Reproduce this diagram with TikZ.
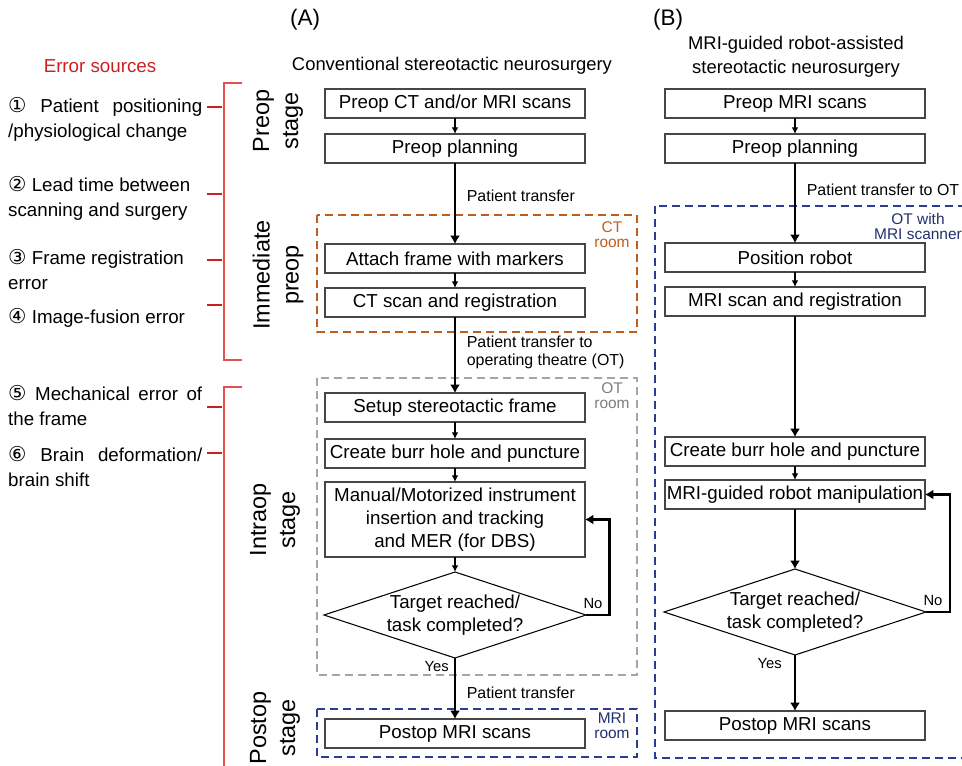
\documentclass[tikz,border=0pt]{standalone}
\usepackage{fontspec}
\setmainfont{Liberation Sans}
\newfontfamily\circfont{DejaVu Sans}
\usepackage{tikz}
\usetikzlibrary{arrows.meta,positioning,shapes.geometric}
\definecolor{errred}{RGB}{204,32,32}
\definecolor{bracketred}{RGB}{226,80,80}
\definecolor{ctbrown}{RGB}{192,92,28}
\definecolor{otgray}{RGB}{165,165,165}
\definecolor{otlabel}{RGB}{125,125,125}
\definecolor{mriblue}{RGB}{44,60,148}
\definecolor{mrilabel}{RGB}{34,48,110}
\definecolor{boxgray}{RGB}{70,70,70}
\tikzset{
    stepbox/.style={
        rectangle,
        draw=boxgray,
        line width=0.9pt,
        minimum width=7.8cm,
        minimum height=0.87cm,
        inner sep=0pt,
        outer sep=0pt,
        align=center,
        font=\fontsize{16}{19.6}\selectfont
    },
    tallbox/.style={stepbox, minimum height=2.25cm},
    decision/.style={stepbox, diamond, draw=black, aspect=3.05, minimum width=7.86cm, minimum height=2.58cm},
    line/.style={-{Latex[length=2mm,width=2mm]}, line width=1pt, draw=black},
    longline/.style={-{Latex[length=2.5mm,width=3mm]}, line width=2.2pt, draw=black},
    transfer/.style={font=\fontsize{13.6}{15.4}\selectfont, align=left, inner sep=2pt},
    answer/.style={font=\fontsize{12.6}{14}\selectfont, inner sep=0pt},
    roomlabel/.style={font=\fontsize{13.2}{12.8}\selectfont, align=center, inner sep=0pt},
    roombox/.style={dash pattern=on 2.4mm off 1.5mm, line width=1.6pt},
    stagelabel/.style={rotate=90, align=center, font=\fontsize{20}{24.7}\selectfont},
    errtext/.style={anchor=north west, text width=5.82cm, align=justify, inner sep=0pt, font=\fontsize{16}{21.3}\selectfont},
    errtick/.style={draw=errred, line width=2.2pt},
    bracket/.style={draw=bracketred, line width=0.9pt},
}
\begin{document}
\begin{tikzpicture}
    \useasboundingbox (0,0) rectangle (28.86,-22.98);
    \clip (0,0) rectangle (28.86,-22.98);

    % headings
    \node[font=\fontsize{19.2}{23}\selectfont] (labA) at (9.15,-0.6) {(A)};
    \node[font=\fontsize{19.2}{23}\selectfont] (labB) at (20.04,-0.6) {(B)};
    \node[font=\fontsize{15.7}{20.5}\selectfont] (titleA) at (13.56,-1.98) {Conventional stereotactic neurosurgery};
    \node[font=\fontsize{15.7}{20.5}\selectfont, align=center] (titleB) at (23.88,-1.71) {MRI-guided robot-assisted\\stereotactic neurosurgery};

    % error sources
    \node[text=errred, font=\fontsize{16}{19}\selectfont] (errhead) at (3.0,-1.98) {Error sources};
    \node[errtext] (err1) at (0.24,-2.91) {{\circfont\fontsize{17.5}{21.3}\selectfont ①} Patient positioning\linebreak /physiological change};
    \node[errtext] (err2) at (0.24,-5.28) {{\circfont\fontsize{17.5}{21.3}\selectfont ②} Lead time between\\scanning and surgery};
    \node[errtext] (err3) at (0.24,-7.47) {{\circfont\fontsize{17.5}{21.3}\selectfont ③} Frame registration\\error};
    \node[errtext] (err4) at (0.24,-9.24) {{\circfont\fontsize{17.5}{21.3}\selectfont ④} Image-fusion error};
    \node[errtext] (err5) at (0.24,-11.55) {{\circfont\fontsize{17.5}{21.3}\selectfont ⑤} Mechanical error of\linebreak the frame};
    \node[errtext] (err6) at (0.24,-13.38) {{\circfont\fontsize{17.5}{21.3}\selectfont ⑥} Brain deformation/\linebreak brain shift};
    \draw[bracket] (7.26,-2.49) -- (6.72,-2.49) -- (6.72,-10.8) -- (7.26,-10.8);
    \draw[bracket] (7.26,-11.61) -- (6.72,-11.61) -- (6.72,-23.2);
    \foreach \ty in {-3.21,-5.82,-7.8,-9.15,-12.21,-13.59}
        \draw[errtick] (6.21,\ty) -- (6.66,\ty);

    % stages
    \node[stagelabel] (stagePre) at (8.34,-3.63) {Preop\\stage};
    \node[stagelabel] (stageImm) at (8.34,-8.25) {Immediate\\preop};
    \node[stagelabel] (stageIntra) at (8.25,-15.6) {Intraop\\stage};
    \node[stagelabel] (stagePost) at (8.25,-21.84) {Postop\\stage};

    % rooms
    \draw[roombox, draw=ctbrown] (9.51,-6.45) rectangle (19.11,-9.96);
    \node[roomlabel, text=ctbrown] (ctroom) at (18.36,-7.05) {CT\\room};
    \draw[roombox, draw=otgray] (9.51,-11.34) rectangle (19.11,-20.25);
    \node[roomlabel, text=otlabel] (otroom) at (18.36,-11.87) {OT\\room};
    \draw[roombox, draw=mriblue] (9.51,-21.27) rectangle (19.11,-22.71);
    \node[roomlabel, text=mrilabel] (mriroom) at (18.36,-21.77) {MRI\\room};
    \draw[roombox, draw=mriblue] (19.65,-6.18) rectangle (29.4,-22.74);
    \node[roomlabel, text=mrilabel] (otmri) at (27.54,-6.78) {OT with\\MRI scanner};

    % (A) conventional
    \node[stepbox] (preopA) at (13.65,-3.105) {Preop CT and/or MRI scans};
    \node[stepbox, below=0.48cm of preopA] (planA) {Preop planning};
    \node[stepbox, below=2.43cm of planA] (frameA) {Attach frame with markers};
    \node[stepbox, below=0.45cm of frameA] (ctregA) {CT scan and registration};
    \node[stepbox, below=2.28cm of ctregA] (setupA) {Setup stereotactic frame};
    \node[stepbox, below=0.51cm of setupA] (burrA) {Create burr hole and puncture};
    \node[tallbox, below=0.42cm of burrA] (insertA) {Manual/Motorized instrument\\insertion and tracking\\and MER (for DBS)};
    \node[decision, below=0.45cm of insertA] (checkA) {Target reached/\\task completed?};
    \node[stepbox, below=1.83cm of checkA] (postopA) {Postop MRI scans};

    \draw[line] (preopA) -- (planA);
    \draw[longline] (planA) -- node[transfer, right=7pt, pos=0.41] {Patient transfer} (frameA);
    \draw[line] (frameA) -- (ctregA);
    \draw[longline] (ctregA) -- node[transfer, right=7pt, pos=0.46] {Patient transfer to\\operating theatre (OT)} (setupA);
    \draw[line] (setupA) -- (burrA);
    \draw[line] (burrA) -- (insertA);
    \draw[line] (insertA) -- (checkA);
    \draw[longline] (checkA) -- node[answer, pos=0, anchor=north east, xshift=-0.15cm, yshift=-0.06cm] {Yes} node[transfer, right=7pt, pos=0.57] {Patient transfer} (postopA);
    \draw[longline] (checkA.east) node[answer, anchor=south, xshift=0.21cm, yshift=0.15cm] {No} -- ++(0.7,0) |- (insertA.east);

    % (B) MRI-guided robot-assisted
    \node[stepbox] (preopB) at (23.85,-3.105) {Preop MRI scans};
    \node[stepbox, below=0.48cm of preopB] (planB) {Preop planning};
    \node[stepbox, below=2.4cm of planB] (robotB) {Position robot};
    \node[stepbox, below=0.45cm of robotB] (mriregB) {MRI scan and registration};
    \node[stepbox, below=3.63cm of mriregB] (burrB) {Create burr hole and puncture};
    \node[stepbox, below=0.42cm of burrB] (manipB) {MRI-guided robot manipulation};
    \node[decision, below=1.8cm of manipB] (checkB) {Target reached/\\task completed?};
    \node[stepbox, below=1.68cm of checkB] (postopB) {Postop MRI scans};

    \draw[line] (preopB) -- (planB);
    \draw[longline] (planB) -- node[transfer, right=7pt, pos=0.33] {Patient transfer to OT} (robotB);
    \draw[line] (robotB) -- (mriregB);
    \draw[longline] (mriregB) -- (burrB);
    \draw[line] (burrB) -- (manipB);
    \draw[longline] (manipB) -- (checkB);
    \draw[longline] (checkB) -- node[answer, pos=0, anchor=north east, xshift=-0.36cm, yshift=-0.06cm] {Yes} (postopB);
    \draw[longline] (checkB.east) node[answer, anchor=south, xshift=0.21cm, yshift=0.15cm] {No} -- ++(0.72,0) |- (manipB.east);
\end{tikzpicture}
\end{document}
